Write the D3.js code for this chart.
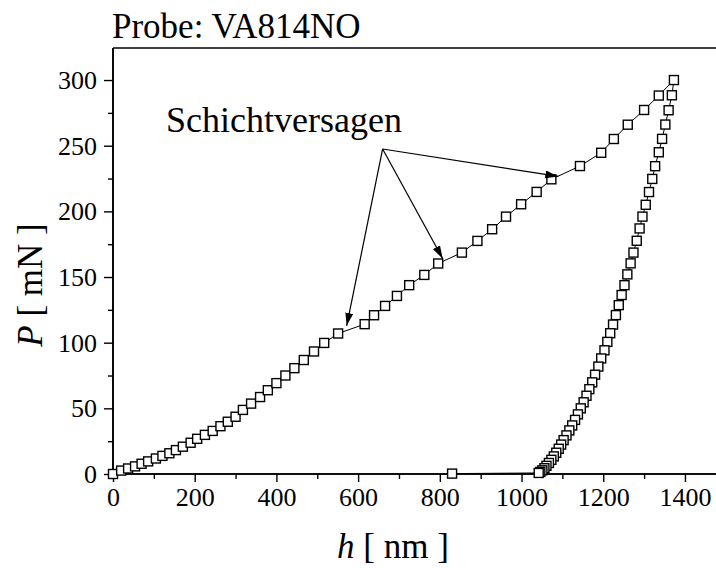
<!DOCTYPE html>
<html>
<head>
<meta charset="utf-8">
<script src="https://cdn.jsdelivr.net/npm/d3@7"></script>
<style>
  html, body { margin: 0; padding: 0; background: #fff; }
  svg { display: block; }
  text { font-family: "Liberation Serif", "Times New Roman", serif; fill: #000; }
</style>
</head>
<body>
<svg id="chart" width="716" height="568"></svg>
<script>
// Indentation depth h [nm] and load P [mN], loading branch
const hLoad = [0, 20, 37, 54, 70, 86, 105, 121, 138, 154, 171, 190, 206, 225, 244, 263, 281, 300, 318, 338,
  360, 379, 400, 422, 444, 467, 492, 517, 551,
  616, 639, 666, 695, 725, 762, 796,
  854, 892, 928, 962, 999, 1037, 1073,
  1143, 1195, 1226, 1260, 1300, 1336, 1373];
const pLoad = [0, 2.6, 4.2, 5.8, 7.8, 9.6, 11.8, 13.8, 15.8, 18.2, 20.8, 23.8, 26.8, 29.8, 32.8, 36.4, 39.8, 43.6, 48.8, 53.6,
  58.6, 63.8, 69.2, 75.0, 80.6, 86.8, 93.3, 99.8, 107.0,
  114.1, 120.9, 128.0, 135.6, 143.8, 151.6, 160.3,
  168.6, 177.5, 186.4, 196.0, 205.4, 214.8, 224.4,
  234.5, 244.6, 255.1, 266.0, 277.2, 288.2, 300];

// Unloading branch
const hUnload = [1368, 1360, 1352, 1344, 1336, 1327, 1320, 1312, 1304, 1296, 1289, 1282, 1274, 1267, 1259, 1252,
  1245, 1238, 1231, 1224, 1217, 1210, 1203, 1195, 1188, 1180, 1173, 1166, 1159, 1152, 1145, 1138, 1131,
  1124, 1117, 1110, 1103, 1097, 1091, 1085, 1079, 1073, 1067, 1061, 1056, 1051, 1046, 1042, 830];
const pUnload = [288.4, 277.0, 266.1, 255.2, 245.0, 234.4, 224.7, 214.7, 205.0, 196.0, 187.0, 177.6, 168.6, 160.4, 152.0, 143.8,
  136.3, 128.6, 121.0, 113.8, 107.2, 100.6, 94.2, 88.0, 81.8, 75.6, 69.8, 64.6, 59.6, 54.6, 50.0, 45.4, 41.2,
  37.0, 33.2, 29.4, 25.8, 22.4, 19.2, 16.2, 13.4, 10.8, 8.4, 6.2, 4.4, 2.8, 1.6, 0.8, 0.3];

// Axis ticks
const xTicks = [0, 200, 400, 600, 800, 1000, 1200, 1400];
const xMinorTicks = [100, 300, 500, 700, 900, 1100, 1300];
const yTicks = [0, 50, 100, 150, 200, 250, 300];
const yMinorTicks = [25, 75, 125, 175, 225, 275];

// Annotation: label and arrows pointing at the layer-failure steps
const annotationText = "Schichtversagen";
const arrowFrom = [660, 247.5];
const arrowTo = [[572, 112.8], [807, 164.0], [1090, 226.6]];

const svg = d3.select("#chart");
const mLeft = 113, mTop = 48, mBottom = 474, mRight = 716;

const x = d3.scaleLinear().domain([0, 1476]).range([mLeft, mRight]);
const y = d3.scaleLinear().domain([0, 324.4]).range([mBottom, mTop]);

const points = hLoad.map((h, i) => [h, pLoad[i]])
  .concat(hUnload.map((h, i) => [h, pUnload[i]]));

// Arrowhead marker
svg.append("defs").append("marker")
  .attr("id", "arrow")
  .attr("viewBox", "0 0 13 8")
  .attr("refX", 13).attr("refY", 4)
  .attr("markerWidth", 13).attr("markerHeight", 8)
  .attr("markerUnits", "userSpaceOnUse")
  .attr("orient", "auto")
  .append("path").attr("d", "M0,0 L13,4 L0,8 Z").attr("fill", "#000");

// Top frame line
svg.append("line").attr("x1", mLeft).attr("x2", mRight).attr("y1", mTop).attr("y2", mTop)
  .attr("stroke", "#000").attr("stroke-width", 1.5);

// X axis
const xAxis = svg.append("g").attr("transform", `translate(0,${mBottom})`);
xAxis.call(d3.axisBottom(x).tickValues(xTicks).tickSize(8).tickPadding(6).tickFormat(d3.format("d")));
xAxis.append("g").call(d3.axisBottom(x).tickValues(xMinorTicks).tickSize(5).tickFormat(""));
xAxis.selectAll(".domain").attr("d", `M${mLeft},0H${mRight}`).attr("stroke-width", 1.6);
xAxis.selectAll(".tick line").attr("stroke-width", 1.4);
xAxis.selectAll("text").style("font-family", "Liberation Serif").style("font-size", "26px");

// Y axis
const yAxis = svg.append("g").attr("transform", `translate(${mLeft},0)`);
yAxis.call(d3.axisLeft(y).tickValues(yTicks).tickSize(9).tickPadding(7).tickFormat(d3.format("d")));
yAxis.append("g").call(d3.axisLeft(y).tickValues(yMinorTicks).tickSize(5).tickFormat(""));
yAxis.selectAll(".domain").attr("d", `M0,${mTop}V${mBottom}`).attr("stroke-width", 1.6);
yAxis.selectAll(".tick line").attr("stroke-width", 1.4);
yAxis.selectAll("text").style("font-family", "Liberation Serif").style("font-size", "26px");
svg.selectAll(".domain").attr("stroke", "#000");

// Connecting line through the measurement points
svg.append("path")
  .datum(points)
  .attr("fill", "none")
  .attr("stroke", "#000")
  .attr("stroke-width", 1)
  .attr("d", d3.line().x(d => x(d[0])).y(d => y(d[1])));

// Square markers
const s = 9;
svg.append("g").selectAll("rect")
  .data(points)
  .join("rect")
  .attr("x", d => x(d[0]) - s / 2)
  .attr("y", d => y(d[1]) - s / 2)
  .attr("width", s).attr("height", s)
  .attr("fill", "#fff")
  .attr("stroke", "#000")
  .attr("stroke-width", 1.4);

// Annotation arrows
svg.append("g").selectAll("line")
  .data(arrowTo)
  .join("line")
  .attr("x1", x(arrowFrom[0])).attr("y1", y(arrowFrom[1]))
  .attr("x2", d => x(d[0])).attr("y2", d => y(d[1]))
  .attr("stroke", "#000").attr("stroke-width", 1.2)
  .attr("marker-end", "url(#arrow)");

svg.append("text")
  .attr("x", 166).attr("y", 132)
  .style("font-size", "36px")
  .text(annotationText);

// Title
svg.append("text")
  .attr("x", 112).attr("y", 38)
  .style("font-size", "35px")
  .text("Probe: VA814NO");

// Axis titles
const xTitle = svg.append("text")
  .attr("x", 393).attr("y", 558)
  .attr("text-anchor", "middle")
  .style("font-size", "35px");
xTitle.append("tspan").style("font-style", "italic").text("h");
xTitle.append("tspan").text(" [ nm ]");

const yTitle = svg.append("text")
  .attr("transform", "translate(42,285) rotate(-90)")
  .attr("text-anchor", "middle")
  .style("font-size", "35px");
yTitle.append("tspan").style("font-style", "italic").text("P");
yTitle.append("tspan").text(" [ mN ]");
</script>
</body>
</html>
